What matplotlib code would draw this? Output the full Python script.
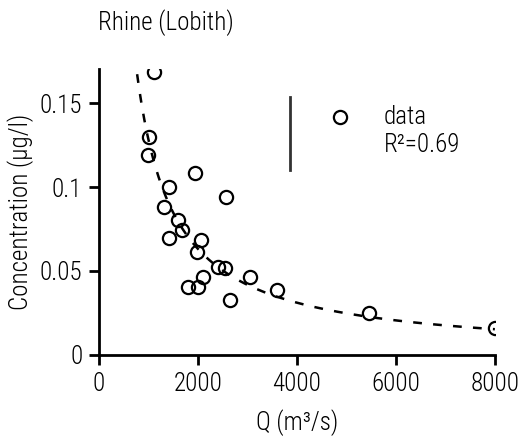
import numpy as np
import matplotlib
matplotlib.use("Agg")
import matplotlib.pyplot as plt
from matplotlib import font_manager

names = {f.name for f in font_manager.fontManager.ttflist}
prefs = ['Liberation Sans Narrow', 'Roboto Condensed', 'Archivo Narrow', 'PT Sans Narrow',
         'Asap Condensed', 'Liberation Sans']
fams = [p for p in prefs if p in names] + ['DejaVu Sans']
plt.rcParams['font.family'] = fams
plt.rcParams['font.weight'] = 'light'
plt.rcParams['axes.labelweight'] = 'light'

# data
Q = [1111, 1017, 997, 1939, 2566, 1421, 1313, 1603, 1670, 1421, 2061, 1973,
     2411, 2108, 1805, 2007, 2646, 2545, 3051, 3589, 5461, 8000]
C = [0.1686, 0.1296, 0.119, 0.1085, 0.0942, 0.100, 0.0883, 0.0804, 0.0744,
     0.0694, 0.0685, 0.0615, 0.0526, 0.0466, 0.0407, 0.0407, 0.0327, 0.052,
     0.0462, 0.0387, 0.0252, 0.0159]
# power-law fit parameters C = a * Q^b
fit_a = 147.0
fit_b = -1.02
r2_text = "R²=0.69"
xticks = [0, 2000, 4000, 6000, 8000]
yticks = [0, 0.05, 0.1, 0.15]
yticklabels = ["0", "0.05", "0.1", "0.15"]

fig = plt.figure(figsize=(5.22, 4.36), dpi=100)
ax = fig.add_axes([0.1897, 0.1858, 0.948 - 0.1897, 0.8408 - 0.1858])

qf = np.linspace(770, 8000, 300)
ax.plot(qf, fit_a * qf ** fit_b, color='black', lw=1.8, ls=(0, (3.5, 4.5)))
ax.plot(Q, C, ls='none', marker='o', ms=9.5, mfc='none', mec='black', mew=1.6)

ax.set_xlim(0, 8000)
ax.set_ylim(0, 0.17)
ax.set_xticks(xticks)
ax.set_xticklabels([str(t) for t in xticks])
ax.set_yticks(yticks)
ax.set_yticklabels(yticklabels)
for s in ['top', 'right']:
    ax.spines[s].set_visible(False)
for s in ['left', 'bottom']:
    ax.spines[s].set_linewidth(2)
ax.tick_params(direction='out', length=7, width=2, labelsize=18, pad=5)

ax.set_xlabel("Q (m³/s)", fontsize=18, labelpad=10)
ax.set_ylabel("Concentration (µg/l)", fontsize=18, labelpad=4)
fig.text(98 / 522, 1 - 23 / 436, "Rhine (Lobith)", fontsize=18, ha='left', va='center')

# legend-like annotation
ax.plot([0.482, 0.482], [0.903, 0.648], transform=ax.transAxes, color='#333333', lw=2)
ax.plot([0.609], [0.833], transform=ax.transAxes, ls='none', marker='o', ms=9.5,
        mfc='none', mec='black', mew=1.6)
ax.text(0.72, 0.833, "data", transform=ax.transAxes, fontsize=18, va='center')
ax.text(0.72, 0.735, r2_text, transform=ax.transAxes, fontsize=18, va='center')

fig.savefig("out.png", dpi=100)
